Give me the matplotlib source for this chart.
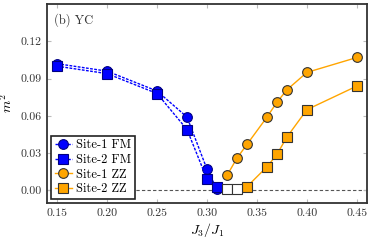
import matplotlib
matplotlib.use('Agg')
import matplotlib.pyplot as plt

plt.rcParams['font.family'] = ['cmr10', 'DejaVu Serif']
plt.rcParams['mathtext.fontset'] = 'cm'
plt.rcParams['axes.formatter.use_mathtext'] = True

# FM phase (blue)
fm_x = [0.15, 0.20, 0.25, 0.28, 0.30, 0.31]
site1_fm = [0.102, 0.096, 0.080, 0.059, 0.017, 0.001]
site2_fm = [0.100, 0.094, 0.078, 0.049, 0.009, 0.003]

# ZZ phase (orange)
zz1_x = [0.32, 0.33, 0.34, 0.36, 0.37, 0.38, 0.40, 0.45]
site1_zz = [0.012, 0.026, 0.037, 0.059, 0.071, 0.081, 0.095, 0.107]
zz2_x = [0.34, 0.36, 0.37, 0.38, 0.40, 0.45]
site2_zz = [0.003, 0.019, 0.029, 0.043, 0.065, 0.084]

# vanishing order (open squares)
gap_x = [0.32, 0.33]
gap_m = [0.001, 0.001]

xticks = [0.15, 0.20, 0.25, 0.30, 0.35, 0.40, 0.45]
yticks = [0.00, 0.03, 0.06, 0.09, 0.12]

fig = plt.figure(figsize=(3.74, 2.4), dpi=100)
ax = fig.add_axes([0.126, 0.155, 0.855, 0.828])

ax.axhline(0, color='#555555', linestyle='--', linewidth=0.8, dashes=(3, 2), zorder=1)

ax.plot(fm_x, site1_fm, color='blue', linestyle='--', dashes=(2, 1), linewidth=1.0,
        marker='o', markersize=7, markerfacecolor='blue', markeredgecolor='#000080',
        markeredgewidth=0.8, label='Site-1 FM', zorder=3)
ax.plot(fm_x, site2_fm, color='blue', linestyle='--', dashes=(2, 1), linewidth=1.0,
        marker='s', markersize=7, markerfacecolor='blue', markeredgecolor='#000080',
        markeredgewidth=0.8, label='Site-2 FM', zorder=3)
ax.plot(zz1_x, site1_zz, color='orange', linestyle='-', linewidth=1.0,
        marker='o', markersize=7, markerfacecolor='orange', markeredgecolor='#333333',
        markeredgewidth=0.8, label='Site-1 ZZ', zorder=3)
ax.plot(zz2_x, site2_zz, color='orange', linestyle='-', linewidth=1.0,
        marker='s', markersize=7, markerfacecolor='orange', markeredgecolor='#333333',
        markeredgewidth=0.8, label='Site-2 ZZ', zorder=3)
ax.plot(gap_x, gap_m, color='green', linestyle='-', linewidth=0.8,
        marker='s', markersize=7, markerfacecolor='white', markeredgecolor='#333333',
        markeredgewidth=0.8, zorder=3)

ax.set_xlim(0.14, 0.46)
ax.set_ylim(-0.01, 0.15)
ax.set_xticks(xticks)
ax.set_yticks(yticks)
ax.set_xticklabels(['%.2f' % t for t in xticks])
ax.set_yticklabels(['%.2f' % t for t in yticks])
ax.tick_params(direction='in', length=3, color='#bbbbbb', labelsize=8.5,
               labelcolor='#333333', top=True, right=True, pad=4)

for s in ax.spines.values():
    s.set_color('#333333')
    s.set_linewidth(1.3)

ax.set_xlabel('$J_3/J_1$', fontsize=10, labelpad=2)
ax.set_ylabel('$m^2$', fontsize=10, labelpad=4)
ax.text(0.02, 0.9, '(b) YC', transform=ax.transAxes, fontsize=9, color='#333333')

leg = ax.legend(loc='lower left', fontsize=9, handlelength=1.4, handletextpad=0.3,
                borderpad=0.3, labelspacing=0.2, borderaxespad=0.3,
                fancybox=False, framealpha=1, edgecolor='#222222')
leg.get_frame().set_linewidth(1.2)

fig.savefig('out.png', dpi=100)
